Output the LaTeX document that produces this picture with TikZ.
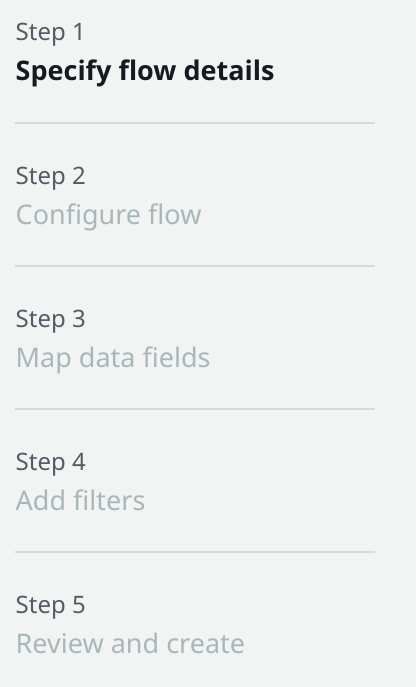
\documentclass[tikz,border=0pt]{standalone}
\usepackage{fontspec}
\setmainfont{Noto Sans}
\newfontfamily\titleboldfam{Open Sans}
\definecolor{bgc}{HTML}{F2F3F3}
\definecolor{stepc}{HTML}{545B64}
\definecolor{activec}{HTML}{16191F}
\definecolor{inactc}{HTML}{AAB7B8}
\definecolor{sepc}{HTML}{D5DBDB}
\begin{document}
\begin{tikzpicture}[x=1pt,y=-1pt,
  steplabel/.style={anchor=base west,inner sep=0pt,text=stepc,font=\fontsize{24}{28}\selectfont},
  activetitle/.style={anchor=base west,inner sep=0pt,text=activec,font=\fontsize{27}{32}\selectfont\titleboldfam\bfseries},
  inacttitle/.style={anchor=base west,inner sep=0pt,text=inactc,font=\fontsize{27}{32}\selectfont},
  sepline/.style={draw=sepc,line width=2pt}]
\fill[bgc] (0,0) rectangle (416,687);
\useasboundingbox (0,0) rectangle (416,687);
\node[steplabel] (s1) at (15.5,41) {Step 1};
\node[activetitle] (t1) at (15.5,81) {Specify flow details};
\coordinate (l1a) at (15,123); \coordinate (l1b) at (375,123);
\draw[sepline] (l1a) -- (l1b);
\node[steplabel] (s2) at (15.5,184) {Step 2};
\node[inacttitle] (t2) at (15.5,224) {Configure flow};
\coordinate (l2a) at (15,266); \coordinate (l2b) at (375,266);
\draw[sepline] (l2a) -- (l2b);
\node[steplabel] (s3) at (15.5,327) {Step 3};
\node[inacttitle] (t3) at (15.5,367) {Map data fields};
\coordinate (l3a) at (15,409); \coordinate (l3b) at (375,409);
\draw[sepline] (l3a) -- (l3b);
\node[steplabel] (s4) at (15.5,470) {Step 4};
\node[inacttitle] (t4) at (15.5,510) {Add filters};
\coordinate (l4a) at (15,552); \coordinate (l4b) at (375,552);
\draw[sepline] (l4a) -- (l4b);
\node[steplabel] (s5) at (15.5,613) {Step 5};
\node[inacttitle] (t5) at (15.5,653) {Review and create};
\end{tikzpicture}
\end{document}
